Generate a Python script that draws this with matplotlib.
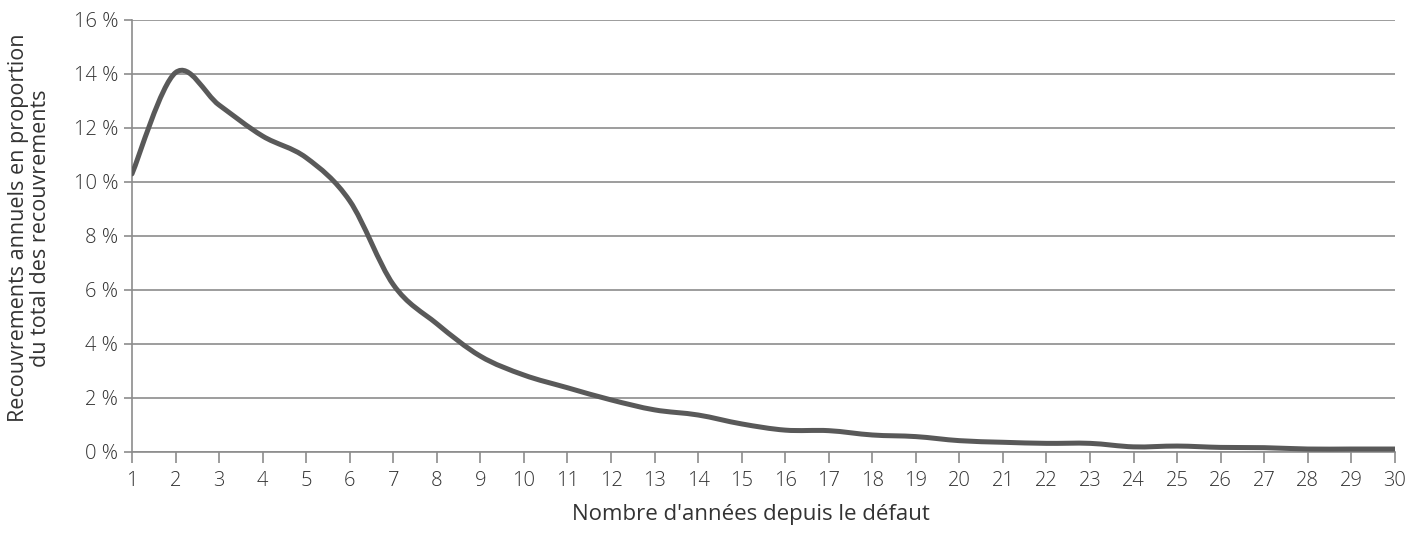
import matplotlib
matplotlib.use("Agg")
import matplotlib.pyplot as plt
from matplotlib.path import Path
from matplotlib.patches import PathPatch
from matplotlib.ticker import FuncFormatter
import numpy as np

# years since default and annual recoveries (% of total)
years = list(range(1, 31))
recoveries = [10.3, 14.05, 12.85, 11.7, 10.9, 9.3, 6.2, 4.75, 3.55, 2.85,
              2.38, 1.93, 1.56, 1.37, 1.04, 0.81, 0.79, 0.63, 0.57, 0.42,
              0.36, 0.32, 0.32, 0.19, 0.22, 0.17, 0.16, 0.11, 0.11, 0.11]

y_ticks = [0, 2, 4, 6, 8, 10, 12, 14, 16]
x_label = "Nombre d'années depuis le défaut"
y_label = "Recouvrements annuels en proportion\ndu total des recouvrements"

plt.rcParams['font.family'] = ['Open Sans', 'DejaVu Sans']
plt.rcParams['font.weight'] = 'light'
text_color = '#333333'
grid_color = '#8c8c8c'
line_color = '#595959'


def smooth_path(xs, ys):
    # Catmull-Rom style bezier, like a spreadsheet "smoothed line"
    xs = np.asarray(xs, float)
    ys = np.asarray(ys, float)
    verts = [(xs[0], ys[0])]
    codes = [Path.MOVETO]
    n = len(xs)
    for i in range(n - 1):
        x0, y0 = (xs[i - 1], ys[i - 1]) if i > 0 else (xs[i], ys[i])
        x3, y3 = (xs[i + 2], ys[i + 2]) if i + 2 < n else (xs[i + 1], ys[i + 1])
        c1 = (xs[i] + (xs[i + 1] - x0) / 6, ys[i] + (ys[i + 1] - y0) / 6)
        c2 = (xs[i + 1] - (x3 - xs[i]) / 6, ys[i + 1] - (y3 - ys[i]) / 6)
        verts += [c1, c2, (xs[i + 1], ys[i + 1])]
        codes += [Path.CURVE4] * 3
    return Path(verts, codes)


fig = plt.figure(figsize=(14.19, 5.49), dpi=100)
ax = fig.add_axes([0.093, 0.1767, 0.890, 0.7869])

ax.add_patch(PathPatch(smooth_path(years, recoveries), facecolor='none',
                       edgecolor=line_color, linewidth=3.6,
                       capstyle='round', joinstyle='round', zorder=3))

ax.set_xlim(1, 30)
ax.set_ylim(0, 16)
ax.set_xticks(years)
ax.set_yticks(y_ticks)
ax.yaxis.set_major_formatter(FuncFormatter(lambda v, p: f"{v:.0f} %"))

ax.grid(axis='y', color=grid_color, linewidth=1.2)
ax.set_axisbelow(True)
for side in ['top', 'right']:
    ax.spines[side].set_visible(False)
for side in ['left', 'bottom']:
    ax.spines[side].set_color(grid_color)
    ax.spines[side].set_linewidth(1.2)

ax.tick_params(axis='x', direction='out', length=8, width=1.2, color=grid_color,
               labelsize=14.5, labelcolor=text_color, pad=6)
ax.tick_params(axis='y', direction='out', length=6, width=1.2, color=grid_color,
               labelsize=14.5, labelcolor=text_color, pad=4)

ax.set_xlabel(x_label, fontsize=16, color=text_color)
ax.xaxis.set_label_coords(0.49, -0.12)
ax.set_ylabel(y_label, fontsize=15.5, color=text_color, linespacing=1.1)
ax.yaxis.set_label_coords(-0.064, 0.518)

fig.savefig("out.png", dpi=100)
